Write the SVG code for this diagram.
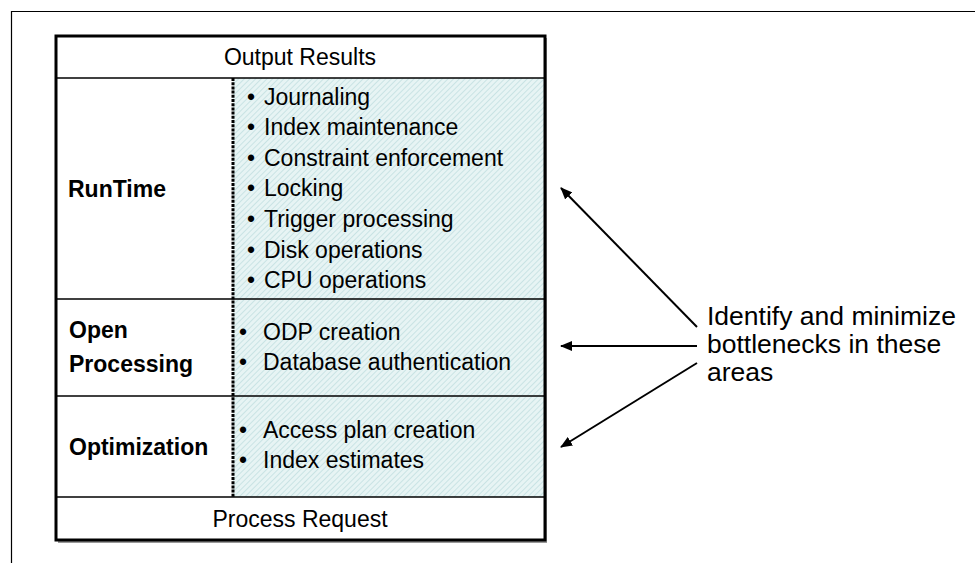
<svg xmlns="http://www.w3.org/2000/svg" width="975" height="563" viewBox="0 0 975 563">
<defs>
<pattern id="hatch" width="4" height="4" patternUnits="userSpaceOnUse" patternTransform="rotate(45)">
<rect width="4" height="4" fill="#e7f4f4"/>
<line x1="0" y1="0" x2="0" y2="4" stroke="#c2dfe1" stroke-width="1.6"/>
</pattern>
<marker id="ah" viewBox="0 0 12 10" refX="11" refY="5" markerWidth="12" markerHeight="10" markerUnits="userSpaceOnUse" orient="auto">
<path d="M0,0 L12,5 L0,10 Z" fill="#000"/>
</marker>
<style>
text{font-family:"Liberation Sans",Arial,sans-serif;fill:#000}
.t{font-size:23px}
.b{font-size:23px;font-weight:bold}
.r{font-size:26.5px}
.sep{stroke:#000;stroke-width:1.6}
.arr{stroke:#000;stroke-width:2;fill:none;marker-end:url(#ah)}
</style>
</defs>
<rect width="975" height="563" fill="#fff"/>
<g id="frame">
<line x1="11" y1="11.5" x2="975" y2="11.5" stroke="#000" stroke-width="1.2"/>
<line x1="11.5" y1="11" x2="11.5" y2="563" stroke="#000" stroke-width="1.2"/>
</g>
<g id="stack">
<rect x="58" y="38" width="489" height="505" fill="#999"/>
<rect x="56" y="36" width="489" height="504" fill="#fff"/>
<rect x="233" y="78" width="312" height="419" fill="url(#hatch)"/>
<line class="sep" x1="56" y1="78" x2="545" y2="78"/>
<line class="sep" x1="56" y1="299" x2="545" y2="299"/>
<line class="sep" x1="56" y1="396" x2="545" y2="396"/>
<line class="sep" x1="56" y1="497" x2="545" y2="497"/>
<line x1="233" y1="78" x2="233" y2="497" stroke="#000" stroke-width="3" stroke-dasharray="3,1.2"/>
<rect x="56" y="36" width="489" height="504" fill="none" stroke="#000" stroke-width="3"/>
</g>
<g id="output"><text class="t" x="300" y="65" text-anchor="middle">Output Results</text></g>
<g id="runtime">
<text class="b" x="68" y="197">RunTime</text>
<text class="t" y="105"><tspan x="247">•</tspan><tspan x="264">Journaling</tspan></text>
<text class="t" y="135"><tspan x="247">•</tspan><tspan x="264">Index maintenance</tspan></text>
<text class="t" y="166"><tspan x="247">•</tspan><tspan x="264">Constraint enforcement</tspan></text>
<text class="t" y="196"><tspan x="247">•</tspan><tspan x="264">Locking</tspan></text>
<text class="t" y="227"><tspan x="247">•</tspan><tspan x="264">Trigger processing</tspan></text>
<text class="t" y="258"><tspan x="247">•</tspan><tspan x="264">Disk operations</tspan></text>
<text class="t" y="288"><tspan x="247">•</tspan><tspan x="264">CPU operations</tspan></text>
</g>
<g id="open">
<text class="b" x="69" y="338">Open</text>
<text class="b" x="69" y="372">Processing</text>
<text class="t" y="340"><tspan x="239">•</tspan><tspan x="263">ODP creation</tspan></text>
<text class="t" y="370"><tspan x="239">•</tspan><tspan x="263">Database authentication</tspan></text>
</g>
<g id="optimization">
<text class="b" x="69" y="455">Optimization</text>
<text class="t" y="438"><tspan x="239">•</tspan><tspan x="263">Access plan creation</tspan></text>
<text class="t" y="468"><tspan x="239">•</tspan><tspan x="263">Index estimates</tspan></text>
</g>
<g id="process"><text class="t" x="300" y="527" text-anchor="middle">Process Request</text></g>
<g id="note">
<text class="r" x="707" y="325">Identify and minimize</text>
<text class="r" x="707" y="353">bottlenecks in these</text>
<text class="r" x="707" y="381">areas</text>
</g>
<g id="connectors">
<line class="arr" x1="697" y1="327" x2="561" y2="188"/>
<line class="arr" x1="697" y1="346" x2="561" y2="346"/>
<line class="arr" x1="697" y1="363" x2="561" y2="447"/>
</g>
</svg>
